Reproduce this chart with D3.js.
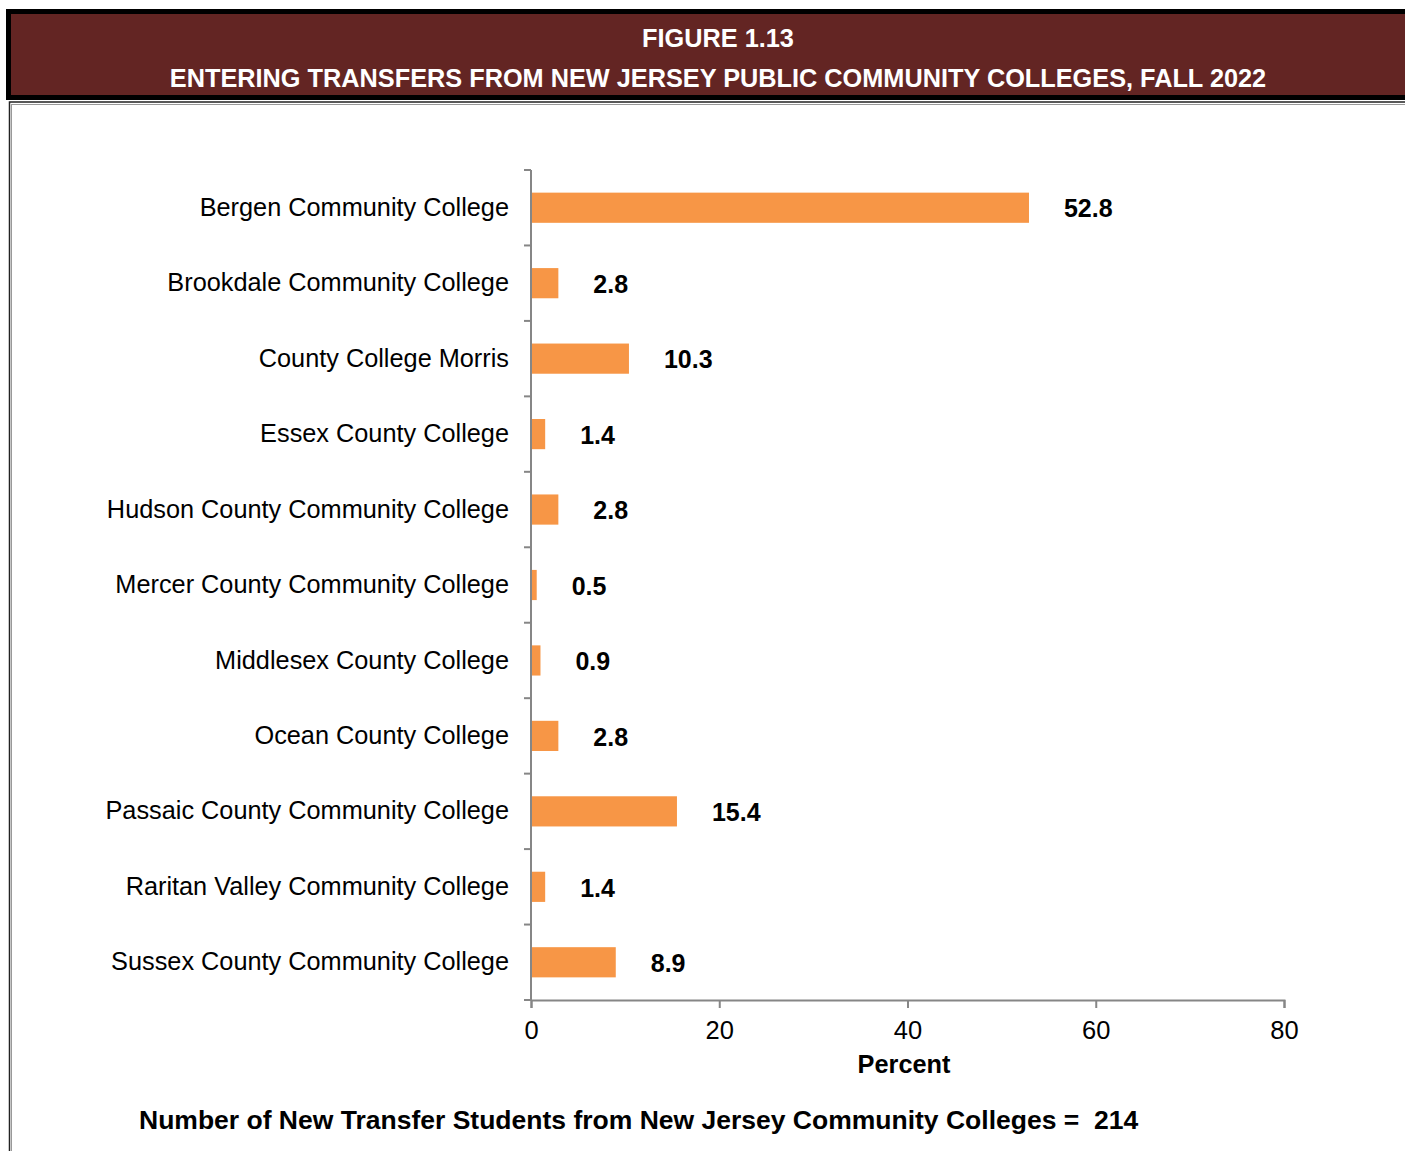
<!DOCTYPE html>
<html>
<head>
<meta charset="utf-8">
<script src="https://cdn.jsdelivr.net/npm/d3@7"></script>
<style>
  body { margin: 0; background: #fff; }
  svg { display: block; font-family: "Liberation Sans", Arial, sans-serif; }
</style>
</head>
<body>
<svg id="chart"></svg>
<script>
const width = 1405;
const height = 1151;

const colleges = [
  "Bergen Community College",
  "Brookdale Community College",
  "County College Morris",
  "Essex County College",
  "Hudson County Community College",
  "Mercer County Community College",
  "Middlesex County College",
  "Ocean County College",
  "Passaic County Community College",
  "Raritan Valley Community College",
  "Sussex County Community College"
];
const percents = [52.8, 2.8, 10.3, 1.4, 2.8, 0.5, 0.9, 2.8, 15.4, 1.4, 8.9];
const xTicks = [0, 20, 40, 60, 80];
const titleLines = ["FIGURE 1.13", "ENTERING TRANSFERS FROM NEW JERSEY PUBLIC COMMUNITY COLLEGES, FALL 2022"];
const totalStudents = 214;

const data = colleges.map((c, i) => ({ name: c, value: percents[i] }));

const svg = d3.select("#chart")
  .attr("width", width)
  .attr("height", height);

// header band
svg.append("rect")
  .attr("x", 8.5).attr("y", 11.5)
  .attr("width", 1420).attr("height", 86)
  .attr("fill", "#632523")
  .attr("stroke", "#000")
  .attr("stroke-width", 5);

svg.selectAll(".title")
  .data(titleLines)
  .enter()
  .append("text")
  .attr("class", "title")
  .attr("x", 718)
  .attr("y", (d, i) => 47 + i * 40)
  .attr("text-anchor", "middle")
  .attr("fill", "#fff")
  .style("font-weight", "bold")
  .style("font-size", "25.3px")
  .text(d => d);

// chart frame (double thin line)
svg.append("rect")
  .attr("x", 9.5).attr("y", 102)
  .attr("width", 1420).attr("height", 1100)
  .attr("fill", "none")
  .attr("stroke", "#222")
  .attr("stroke-width", 1.5);
svg.append("rect")
  .attr("x", 11.5).attr("y", 104.5)
  .attr("width", 1420).attr("height", 1100)
  .attr("fill", "none")
  .attr("stroke", "#999")
  .attr("stroke-width", 1);

const xScale = d3.scaleLinear()
  .domain([0, 80])
  .range([531, 1284]);

const yScale = d3.scaleBand()
  .domain(colleges)
  .range([170, 1000])
  .paddingInner(0.6)
  .paddingOuter(0.3);

const axisColor = "#868686";

// x axis
const xAxis = svg.append("g")
  .attr("transform", `translate(0, 1000)`)
  .call(d3.axisBottom(xScale).tickValues(xTicks).tickSize(8).tickSizeOuter(8).tickPadding(13));
xAxis.select(".domain").attr("stroke", axisColor).attr("stroke-width", 2);
xAxis.selectAll(".tick line").attr("stroke", axisColor).attr("stroke-width", 2);
xAxis.selectAll(".tick text")
  .attr("fill", "#000")
  .style("font-size", "25.5px")
  .style("font-family", "Liberation Sans, Arial, sans-serif");

// y axis (labels only, ticks drawn at band boundaries)
const yAxis = svg.append("g")
  .attr("transform", `translate(531, 0)`)
  .call(d3.axisLeft(yScale).tickSize(0).tickPadding(22));
yAxis.select(".domain").remove();
yAxis.selectAll(".tick text")
  .attr("fill", "#000")
  .style("font-size", "25.3px")
  .style("font-family", "Liberation Sans, Arial, sans-serif");

svg.append("line")
  .attr("x1", 531).attr("x2", 531)
  .attr("y1", yScale.range()[0]).attr("y2", yScale.range()[1])
  .attr("stroke", axisColor)
  .attr("stroke-width", 2);

const boundaries = d3.range(colleges.length + 1)
  .map(i => yScale.range()[0] + i * yScale.step());
svg.selectAll(".ytick")
  .data(boundaries)
  .enter()
  .append("line")
  .attr("class", "ytick")
  .attr("x1", 524).attr("x2", 531)
  .attr("y1", d => d).attr("y2", d => d)
  .attr("stroke", axisColor)
  .attr("stroke-width", 2);

// bars
svg.selectAll(".bar")
  .data(data)
  .enter()
  .append("rect")
  .attr("class", "bar")
  .attr("x", xScale(0) + 1)
  .attr("y", d => yScale(d.name))
  .attr("width", d => xScale(d.value) - xScale(0))
  .attr("height", yScale.bandwidth())
  .attr("fill", "#F79646");

// value labels
svg.selectAll(".value")
  .data(data)
  .enter()
  .append("text")
  .attr("class", "value")
  .attr("x", d => xScale(d.value) + 36)
  .attr("y", d => yScale(d.name) + yScale.bandwidth() / 2 + 1)
  .attr("dy", "0.35em")
  .style("font-weight", "bold")
  .style("font-size", "25px")
  .text(d => d.value.toFixed(1));

// axis title
svg.append("text")
  .attr("x", 904)
  .attr("y", 1073)
  .attr("text-anchor", "middle")
  .style("font-weight", "bold")
  .style("font-size", "25.3px")
  .text("Percent");

// footer note
svg.append("text")
  .attr("x", 139)
  .attr("y", 1129)
  .style("font-weight", "bold")
  .style("font-size", "26.5px")
  .style("white-space", "pre")
  .text(`Number of New Transfer Students from New Jersey Community Colleges =  ${totalStudents}`);
</script>
</body>
</html>
